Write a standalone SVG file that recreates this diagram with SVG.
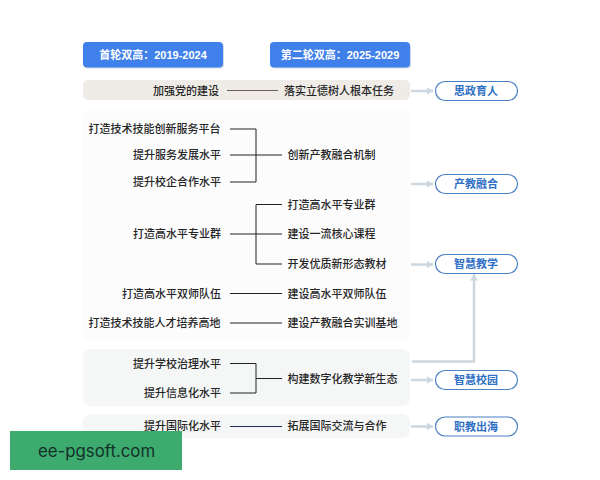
<svg xmlns="http://www.w3.org/2000/svg" width="600" height="480" viewBox="0 0 600 480">
<style>
text{font-family:"Liberation Sans","Noto Sans CJK SC",sans-serif;font-size:11px;font-weight:500;fill:#262626;dominant-baseline:central}
.l{text-anchor:end}
.h{fill:#fff;font-size:11px;font-weight:700;text-anchor:middle}
.p{fill:#2f6fc4;font-size:11px;font-weight:700;text-anchor:middle}
.pill{fill:#fff;stroke:#4a80c4;stroke-width:1.2}
.c{fill:none;stroke:#222;stroke-width:1}
.a{fill:none;stroke:#cdd7e0;stroke-width:2.500}
.hb{fill:#3f80ea}
.hs{fill:#d5dbe6}
</style>
<defs>
<marker id="ah" markerUnits="userSpaceOnUse" markerWidth="7" markerHeight="10" refX="6.500" refY="5" orient="auto"><path d="M0 1L6.500 5L0 9Z" fill="#cdd7e0"/></marker>
</defs>
<rect width="600" height="480" fill="#fff"/>
<g id="bands">
<rect x="83" y="110" width="327" height="232" rx="8" fill="#fcfcfd"/>
<rect x="83" y="80" width="327" height="20" rx="5" fill="#efebe7"/>
<rect x="83" y="349" width="327" height="57" rx="8" fill="#f5f6f6"/>
<rect x="83" y="414" width="327" height="24" rx="8" fill="#f5f6f6"/>
</g>
<g id="header1"><rect class="hs" x="84" y="43" width="140" height="25.500" rx="4"/><rect class="hb" x="83" y="42" width="140" height="25.500" rx="4"/><text class="h" x="153" y="55">首轮双高：2019-2024</text></g>
<g id="header2"><rect class="hs" x="271" y="43" width="140" height="25.500" rx="4"/><rect class="hb" x="270" y="42" width="140" height="25.500" rx="4"/><text class="h" x="340" y="55">第二轮双高：2025-2029</text></g>
<g id="connectors">
<path d="M227 90.500H278" fill="none" stroke="#6b5c55" stroke-width="1"/>
<path class="c" d="M230 129H256V182H230M230 155H282"/>
<path class="c" d="M230 234H282M282 204.500H256V264H282"/>
<path class="c" d="M230 293.500H282M230 323H282"/>
<path class="c" d="M230 363.500H256V393H230M256 378.500H282"/>
<path d="M230 426.500H282" fill="none" stroke="#1c2c55" stroke-width="1"/>
<path class="a" d="M411 91H433" marker-end="url(#ah)"/>
<path class="a" d="M411 184H433" marker-end="url(#ah)"/>
<path class="a" d="M411 264.500H433" marker-end="url(#ah)"/>
<path class="a" d="M411 380H433" marker-end="url(#ah)"/>
<path class="a" d="M411 426.500H433" marker-end="url(#ah)"/>
<path class="a" d="M412 361.500H474V274" marker-end="url(#ah)"/>
</g>
<g id="left-items">
<text class="l" x="219" y="90.500">加强党的建设</text>
<text class="l" x="220.500" y="129">打造技术技能创新服务平台</text>
<text class="l" x="221" y="155">提升服务发展水平</text>
<text class="l" x="221" y="181.500">提升校企合作水平</text>
<text class="l" x="221" y="233.500">打造高水平专业群</text>
<text class="l" x="221" y="293.500">打造高水平双师队伍</text>
<text class="l" x="220.500" y="323">打造技术技能人才培养高地</text>
<text class="l" x="221" y="363.500">提升学校治理水平</text>
<text class="l" x="221" y="392.500">提升信息化水平</text>
<text class="l" x="221" y="426">提升国际化水平</text>
</g>
<g id="right-items">
<text x="284" y="90.500">落实立德树人根本任务</text>
<text x="287.500" y="155">创新产教融合机制</text>
<text x="287.500" y="204.500">打造高水平专业群</text>
<text x="287.500" y="234">建设一流核心课程</text>
<text x="287.500" y="264">开发优质新形态教材</text>
<text x="287.500" y="293.500">建设高水平双师队伍</text>
<text x="287.500" y="323">建设产教融合实训基地</text>
<text x="287.500" y="378.500">构建数字化教学新生态</text>
<text x="287.500" y="426">拓展国际交流与合作</text>
</g>
<g id="pill-sizheng"><rect class="pill" x="435.500" y="81.500" width="82" height="19" rx="9.500"/><text class="p" x="476" y="91">思政育人</text></g>
<g id="pill-chanjiao"><rect class="pill" x="435.500" y="174.500" width="82" height="19" rx="9.500"/><text class="p" x="476" y="184">产教融合</text></g>
<g id="pill-jiaoxue"><rect class="pill" x="435.500" y="254.500" width="82" height="19" rx="9.500"/><text class="p" x="476" y="264">智慧教学</text></g>
<g id="pill-xiaoyuan"><rect class="pill" x="435.500" y="370.500" width="82" height="19" rx="9.500"/><text class="p" x="476" y="380">智慧校园</text></g>
<g id="pill-chuhai"><rect class="pill" x="435.500" y="417" width="82" height="19" rx="9.500"/><text class="p" x="476" y="426.500">职教出海</text></g>
<g id="watermark"><rect x="10" y="431" width="172" height="39" fill="#3cab6d"/><text x="38" y="450.500" style="font-family:'Inter','Liberation Sans',sans-serif;font-size:16.800px;font-weight:400;fill:#14302a">ee-pgsoft.com</text></g>
</svg>
